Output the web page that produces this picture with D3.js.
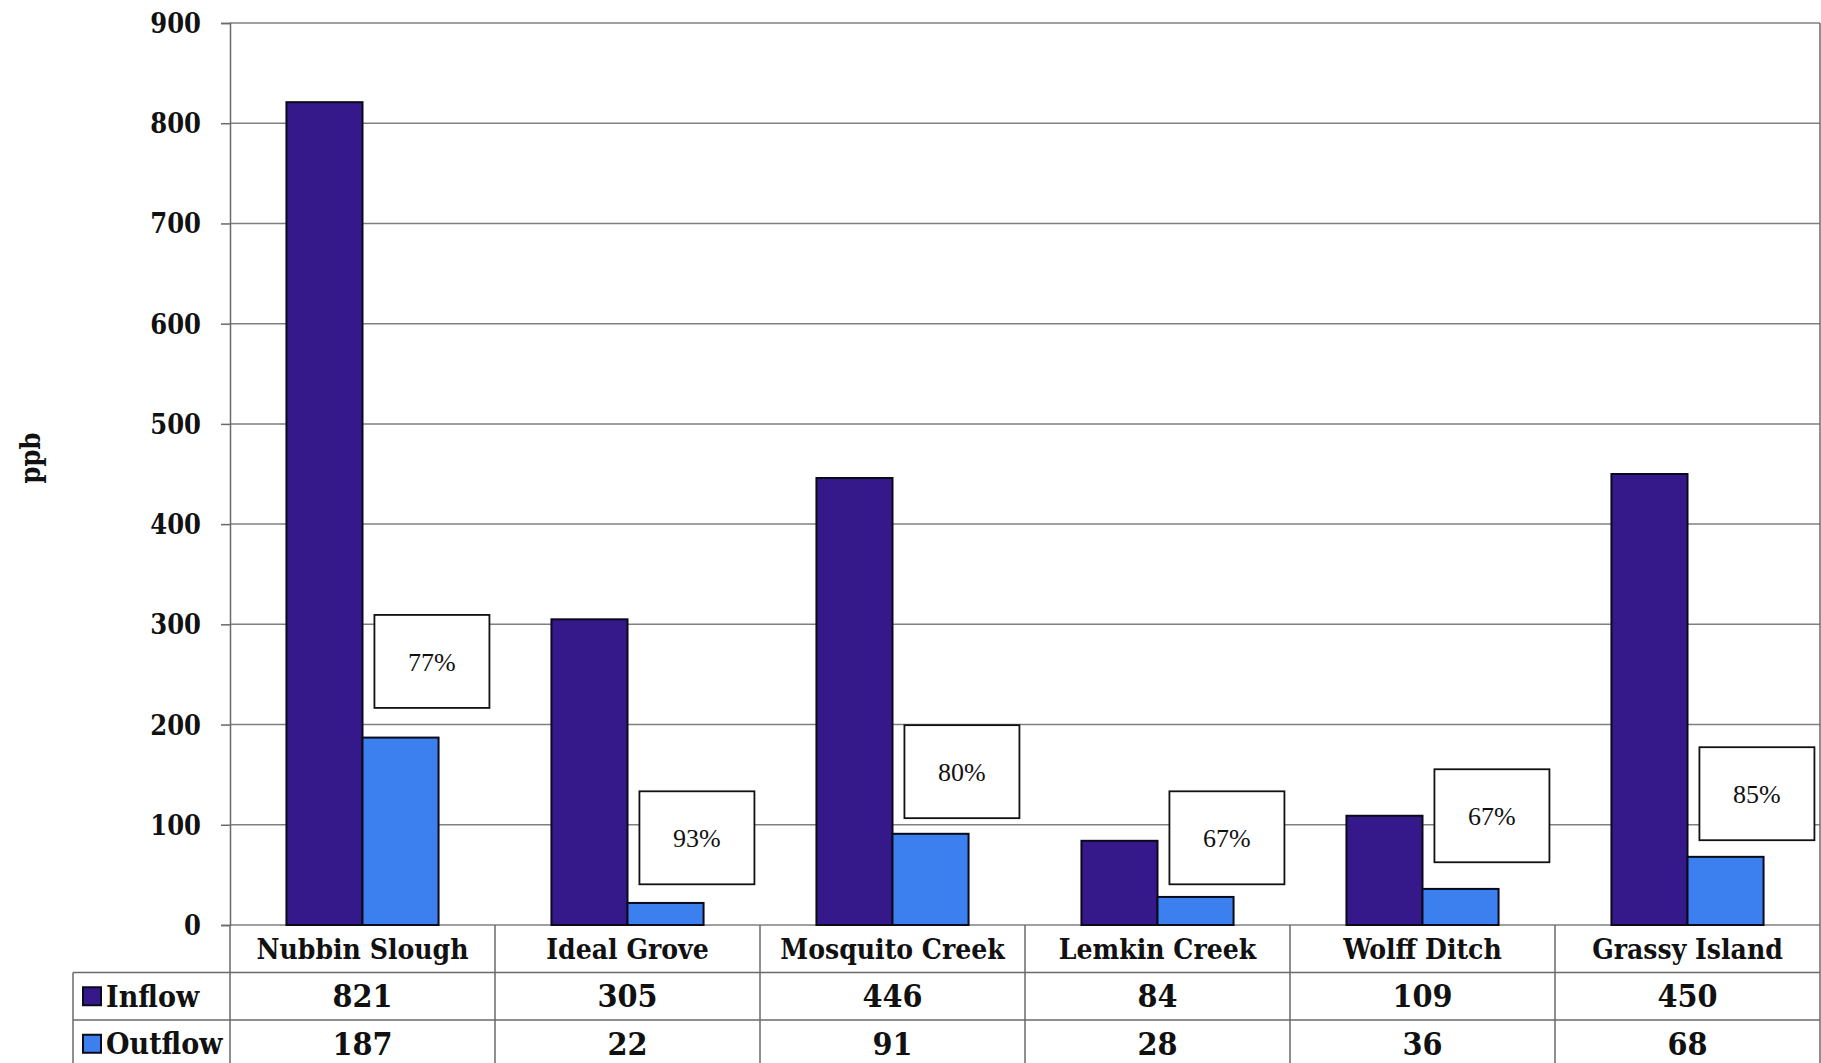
<!DOCTYPE html>
<html>
<head>
<meta charset="utf-8">
<script src="https://cdn.jsdelivr.net/npm/d3@7"></script>
<style>
  body { margin: 0; background: #fff; }
  svg { display: block; }
  .bold { font-family: "DejaVu Serif Condensed", "DejaVu Serif", serif; font-weight: bold; fill: #111; }
  .pct { font-family: "Liberation Serif", serif; fill: #111; }
</style>
</head>
<body>
<div id="chart"></div>
<script>
// data
var sites = ["Nubbin Slough", "Ideal Grove", "Mosquito Creek", "Lemkin Creek", "Wolff Ditch", "Grassy Island"]
var series = ["Inflow", "Outflow"]
var inflow = [821, 305, 446, 84, 109, 450]
var outflow = [187, 22, 91, 28, 36, 68]
var reduction = ["77%", "93%", "80%", "67%", "67%", "85%"]
// where each % box sits (centre, in ppb)
var boxAt = [263, 87, 153, 87, 109, 131]
var yTicks = [0, 100, 200, 300, 400, 500, 600, 700, 800, 900]

var colors = { Inflow: "#35198a", Outflow: "#3b80ee" }

var W = 1821, H = 1063
var plotLeft = 230, plotRight = 1820, plotTop = 23, plotBottom = 925
var rowH = 47.5
var legendLeft = 73

var svg = d3.select("#chart").append("svg")
    .attr("width", W)
    .attr("height", H)

var x = d3.scaleBand()
    .domain(sites)
    .range([plotLeft, plotRight])

var bw = x.bandwidth()

var x1 = d3.scaleBand()
    .domain(series)
    .range([bw * 0.213, bw * 0.787])

var y = d3.scaleLinear()
    .domain([0, 900])
    .range([plotBottom, plotTop])

// gridlines
svg.append("g")
    .selectAll("line")
    .data(yTicks)
    .join("line")
    .attr("x1", plotLeft)
    .attr("x2", plotRight)
    .attr("y1", d => y(d))
    .attr("y2", d => y(d))
    .style("stroke", "#808080")
    .style("stroke-width", 1.5)

// y axis
var yAxis = d3.axisLeft(y)
    .tickValues(yTicks)
    .tickSize(9)
    .tickPadding(20)

var gy = svg.append("g")
    .attr("transform", "translate(" + plotLeft + ",0)")
    .call(yAxis)

gy.select(".domain").style("stroke", "#6a6a6a").style("stroke-width", 1.5)
gy.selectAll(".tick line").style("stroke", "#6a6a6a").style("stroke-width", 1.5)
gy.selectAll(".tick text")
    .attr("class", "bold")
    .style("font-size", "27px")
    .attr("dy", "0.35em")

// right border
svg.append("line")
    .attr("x1", plotRight).attr("x2", plotRight)
    .attr("y1", plotTop).attr("y2", H)
    .style("stroke", "#6a6a6a")
    .style("stroke-width", 1.5)

svg.append("text")
    .attr("class", "bold")
    .attr("transform", "translate(40,458) rotate(-90)")
    .attr("text-anchor", "middle")
    .style("font-size", "27px")
    .text("ppb")

// bars
var table = sites.map((s, i) => ({ site: s, Inflow: inflow[i], Outflow: outflow[i] }))

var groups = svg.append("g")
    .selectAll("g")
    .data(table)
    .join("g")
    .attr("transform", d => "translate(" + x(d.site) + ",0)")

groups.selectAll("rect")
    .data(d => series.map(k => ({ key: k, value: d[k] })))
    .join("rect")
    .attr("x", d => x1(d.key))
    .attr("width", x1.bandwidth())
    .attr("y", d => y(d.value))
    .attr("height", d => y(0) - y(d.value))
    .style("fill", d => colors[d.key])
    .style("stroke", "#0a0a1a")
    .style("stroke-width", 2)

// % reduction boxes
var boxW = 115, boxH = 93
var boxes = svg.append("g")
    .selectAll("g")
    .data(sites)
    .join("g")
    .attr("transform", (d, i) => "translate(" + (x(d) + bw * 0.545) + "," + (y(boxAt[i]) - boxH / 2) + ")")

boxes.append("rect")
    .attr("width", boxW)
    .attr("height", boxH)
    .style("fill", "#fff")
    .style("stroke", "#111")
    .style("stroke-width", 1.8)

boxes.append("text")
    .attr("class", "pct")
    .attr("x", boxW / 2)
    .attr("y", boxH / 2)
    .attr("dy", "0.35em")
    .attr("text-anchor", "middle")
    .style("font-size", "26px")
    .text((d, i) => reduction[i])

// data table under the chart
var tg = svg.append("g")
var lineStyle = sel => sel.style("stroke", "#6a6a6a").style("stroke-width", 1.5)

// vertical separators
tg.selectAll(".vsep")
    .data(sites)
    .join("line")
    .attr("class", "vsep")
    .attr("x1", d => x(d)).attr("x2", d => x(d))
    .attr("y1", plotBottom).attr("y2", H)
    .call(lineStyle)

// horizontal rows
tg.selectAll(".hsep")
    .data([1, 2])
    .join("line")
    .attr("class", "hsep")
    .attr("x1", legendLeft).attr("x2", plotRight)
    .attr("y1", d => plotBottom + d * rowH).attr("y2", d => plotBottom + d * rowH)
    .call(lineStyle)

tg.append("line")
    .attr("x1", legendLeft).attr("x2", legendLeft)
    .attr("y1", plotBottom + rowH).attr("y2", H)
    .call(lineStyle)

// category names
tg.selectAll(".cat")
    .data(sites)
    .join("text")
    .attr("class", "bold")
    .attr("x", d => x(d) + bw / 2)
    .attr("y", plotBottom + rowH / 2)
    .attr("dy", "0.35em")
    .attr("text-anchor", "middle")
    .style("font-size", "28px")
    .text(d => d)

// value rows with legend keys
var rows = [inflow, outflow]
series.forEach(function (k, r) {
    var cy = plotBottom + rowH * (r + 1.5)

    tg.append("rect")
        .attr("x", legendLeft + 10)
        .attr("y", cy - 9)
        .attr("width", 18)
        .attr("height", 18)
        .style("fill", colors[k])
        .style("stroke", "#0a0a1a")
        .style("stroke-width", 2)

    tg.append("text")
        .attr("class", "bold")
        .attr("x", legendLeft + 33)
        .attr("y", cy)
        .attr("dy", "0.35em")
        .style("font-size", "30px")
        .text(k)

    tg.selectAll(".v" + r)
        .data(rows[r])
        .join("text")
        .attr("class", "bold v" + r)
        .attr("x", (d, i) => x(sites[i]) + bw / 2)
        .attr("y", cy)
        .attr("dy", "0.35em")
        .attr("text-anchor", "middle")
        .style("font-size", "32px")
        .text(d => d)
})
</script>
</body>
</html>
